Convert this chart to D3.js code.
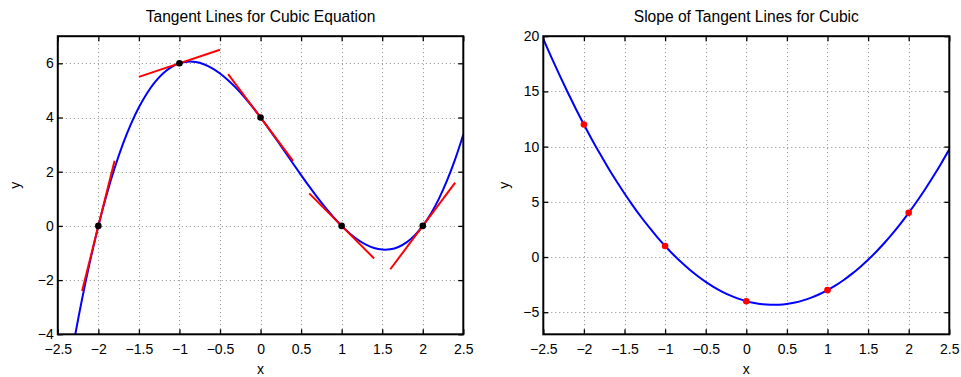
<!DOCTYPE html>
<html>
<head>
<meta charset="utf-8">
<script src="https://cdn.jsdelivr.net/npm/d3@7"></script>
<style>
  body { margin: 0; background: #fff; }
  svg { display: block; }
  text { font-family: "Liberation Sans", Arial, Helvetica, sans-serif; fill: #000; }
</style>
</head>
<body>
<svg id="chart" width="961" height="377"></svg>
<script>
// Sample positions along x
const xs = [-2.5,-2.4,-2.3,-2.2,-2.1,-2.0,-1.9,-1.8,-1.7,-1.6,-1.5,-1.4,-1.3,-1.2,-1.1,-1.0,
  -0.9,-0.8,-0.7,-0.6,-0.5,-0.4,-0.3,-0.2,-0.1,0,0.1,0.2,0.3,0.4,0.5,0.6,0.7,0.8,0.9,1.0,
  1.1,1.2,1.3,1.4,1.5,1.6,1.7,1.8,1.9,2.0,2.1,2.2,2.3,2.4,2.5];

// Cubic curve values
const cubicY = [-7.875,-5.984,-4.257,-2.688,-1.271,0,1.131,2.128,2.997,3.744,4.375,4.896,5.313,5.632,5.859,6,
  6.061,6.048,5.967,5.824,5.625,5.376,5.083,4.752,4.389,4,3.591,3.168,2.737,2.304,1.875,1.456,1.053,0.672,0.319,0,
  -0.279,-0.512,-0.693,-0.816,-0.875,-0.864,-0.777,-0.608,-0.351,0,0.451,1.008,1.677,2.464,3.375];

// Slope curve values
const slopeY = [19.75,18.08,16.47,14.92,13.43,12,10.63,9.32,8.07,6.88,5.75,4.68,3.67,2.72,1.83,1,
  0.23,-0.48,-1.13,-1.72,-2.25,-2.72,-3.13,-3.48,-3.77,-4,-4.17,-4.28,-4.33,-4.32,-4.25,-4.12,-3.93,-3.68,-3.37,-3,
  -2.57,-2.08,-1.53,-0.92,-0.25,0.48,1.27,2.12,3.03,4,5.03,6.12,7.27,8.48,9.75];

// Points of tangency and their slopes
const pointX = [-2, -1, 0, 1, 2];
const pointY = [0, 6, 4, 0, 0];
const pointSlope = [12, 1, -4, -3, 4];

// Tangent segment endpoints
const tanX0 = [-2.2, -1.5, -0.4, 0.6, 1.6];
const tanY0 = [-2.4, 5.5, 5.6, 1.2, -1.6];
const tanX1 = [-1.8, -0.5, 0.4, 1.4, 2.4];
const tanY1 = [2.4, 6.5, 2.4, -1.2, 1.6];

// Ticks
const xTicks = [-2.5, -2, -1.5, -1, -0.5, 0, 0.5, 1, 1.5, 2, 2.5];
const xTickLabels = ["\u22122.5", "\u22122", "\u22121.5", "\u22121", "\u22120.5", "0", "0.5", "1", "1.5", "2", "2.5"];
const leftYTicks = [-4, -2, 0, 2, 4, 6];
const leftYTickLabels = ["\u22124", "\u22122", "0", "2", "4", "6"];
const rightYTicks = [-5, 0, 5, 10, 15, 20];
const rightYTickLabels = ["\u22125", "0", "5", "10", "15", "20"];

const svg = d3.select("#chart");
svg.append("rect").attr("width", 961).attr("height", 377).attr("fill", "#fff");

function panel(opt) {
  const x = d3.scaleLinear().domain([-2.5, 2.5]).range([opt.left, opt.right]);
  const y = d3.scaleLinear().domain(opt.yDomain).range([opt.bottom, opt.top]);
  const g = svg.append("g");
  const clipId = "clip" + opt.id;
  g.append("clipPath").attr("id", clipId).append("rect")
    .attr("x", opt.left).attr("y", opt.top)
    .attr("width", opt.right - opt.left).attr("height", opt.bottom - opt.top);

  // grid
  const grid = g.append("g").attr("stroke", "#8a8a8a").attr("stroke-width", 1)
    .attr("stroke-dasharray", "1,3");
  grid.selectAll("line.gx").data(xTicks.slice(1, -1)).join("line")
    .attr("x1", d => Math.round(x(d)) + 0.5).attr("x2", d => Math.round(x(d)) + 0.5)
    .attr("y1", opt.top).attr("y2", opt.bottom);
  grid.selectAll("line.gy").data(opt.yTicks.filter(d => d > opt.yDomain[0] && d < opt.yDomain[1])).join("line")
    .attr("y1", d => Math.round(y(d)) + 0.5).attr("y2", d => Math.round(y(d)) + 0.5)
    .attr("x1", opt.left).attr("x2", opt.right);

  const plot = g.append("g").attr("clip-path", `url(#${clipId})`);
  opt.draw(plot, x, y);

  // axes with inward ticks
  const tickLen = 5;
  const fmtX = (d, i) => xTickLabels[i];
  const fmtY = (d, i) => opt.yLabels[i];
  const axes = [
    g.append("g").attr("transform", `translate(0,${opt.bottom})`)
      .call(d3.axisBottom(x).tickValues(xTicks).tickFormat(fmtX).tickSizeInner(-tickLen).tickSizeOuter(0).tickPadding(10)),
    g.append("g").attr("transform", `translate(0,${opt.top})`)
      .call(d3.axisTop(x).tickValues(xTicks).tickFormat("").tickSizeInner(-tickLen).tickSizeOuter(0)),
    g.append("g").attr("transform", `translate(${opt.left},0)`)
      .call(d3.axisLeft(y).tickValues(opt.yTicks).tickFormat(fmtY).tickSizeInner(-tickLen).tickSizeOuter(0).tickPadding(4)),
    g.append("g").attr("transform", `translate(${opt.right},0)`)
      .call(d3.axisRight(y).tickValues(opt.yTicks).tickFormat("").tickSizeInner(-tickLen).tickSizeOuter(0))
  ];
  axes.forEach(a => {
    a.select(".domain").remove();
    a.selectAll(".tick line").attr("stroke", "#000").attr("stroke-width", 1.3);
    a.selectAll(".tick text").attr("font-size", 14).attr("fill", "#000")
      .attr("font-family", '"Liberation Sans", Arial, Helvetica, sans-serif');
  });

  // frame
  g.append("rect").attr("x", opt.left).attr("y", opt.top)
    .attr("width", opt.right - opt.left).attr("height", opt.bottom - opt.top)
    .attr("fill", "none").attr("stroke", "#000").attr("stroke-width", 2);

  // title and axis labels
  const cx = (opt.left + opt.right) / 2;
  g.append("text").attr("x", cx).attr("y", 22).attr("text-anchor", "middle")
    .attr("font-size", 15.6).text(opt.title);
  g.append("text").attr("x", cx).attr("y", 374).attr("text-anchor", "middle")
    .attr("font-size", 14).text("x");
  g.append("text").attr("transform", `translate(${opt.yLabelX},${(opt.top + opt.bottom) / 2}) rotate(-90)`)
    .attr("text-anchor", "middle").attr("font-size", 14).text("y");
}

const line = (x, y) => d3.line().x(d => x(d[0])).y(d => y(d[1])).curve(d3.curveCatmullRom);

panel({
  id: "L", left: 57.8, right: 463.3, top: 36.2, bottom: 334.3,
  yDomain: [-4, 7], yTicks: leftYTicks, yLabels: leftYTickLabels,
  title: "Tangent Lines for Cubic Equation", yLabelX: 20,
  draw: (p, x, y) => {
    p.append("path").datum(xs.map((v, i) => [v, cubicY[i]]))
      .attr("d", line(x, y)).attr("fill", "none").attr("stroke", "#0000ff").attr("stroke-width", 2);
    p.selectAll("line.tan").data(tanX0).join("line")
      .attr("x1", (d, i) => x(tanX0[i])).attr("y1", (d, i) => y(tanY0[i]))
      .attr("x2", (d, i) => x(tanX1[i])).attr("y2", (d, i) => y(tanY1[i]))
      .attr("stroke", "#ff0000").attr("stroke-width", 2);
    p.selectAll("circle").data(pointX).join("circle")
      .attr("cx", (d, i) => x(pointX[i])).attr("cy", (d, i) => y(pointY[i]))
      .attr("r", 3.3).attr("fill", "#000");
  }
});

panel({
  id: "R", left: 543.3, right: 949.3, top: 36.2, bottom: 334.3,
  yDomain: [-7, 20], yTicks: rightYTicks, yLabels: rightYTickLabels,
  title: "Slope of Tangent Lines for Cubic", yLabelX: 509,
  draw: (p, x, y) => {
    p.append("path").datum(xs.map((v, i) => [v, slopeY[i]]))
      .attr("d", line(x, y)).attr("fill", "none").attr("stroke", "#0000ff").attr("stroke-width", 2);
    p.selectAll("circle").data(pointX).join("circle")
      .attr("cx", (d, i) => x(pointX[i])).attr("cy", (d, i) => y(pointSlope[i]))
      .attr("r", 3.3).attr("fill", "#ff0000");
  }
});
</script>
</body>
</html>
